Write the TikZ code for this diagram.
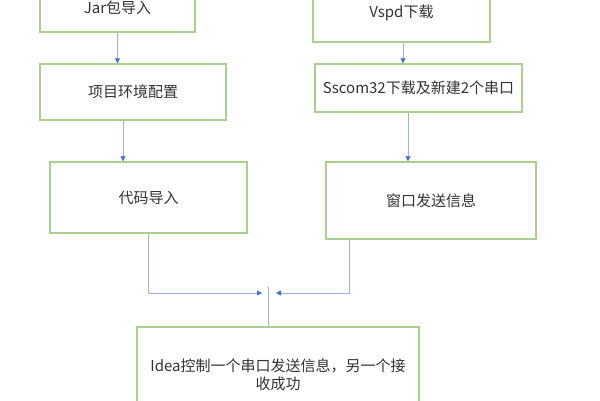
\documentclass[tikz,border=0pt]{standalone}
\usepackage{fontspec}
\setmainfont{Noto Sans CJK SC}
\usetikzlibrary{arrows.meta}
\definecolor{boxgreen}{HTML}{A9D18E}
\definecolor{linkblue}{HTML}{9AB3E0}
\definecolor{headblue}{HTML}{4472C4}
\definecolor{txt}{HTML}{333333}
\tikzset{
  stepbox/.style={draw=boxgreen, line width=1.4pt, fill=white, inner sep=0pt,
    text=txt, font=\fontsize{15}{18}\selectfont, align=center},
  arr/.style={draw=linkblue, line width=0.8pt,
    -{Triangle[length=5pt,width=5pt,fill=headblue,color=headblue]}},
  link/.style={draw=linkblue, line width=0.8pt}
}
\begin{document}
\begin{tikzpicture}[x=1pt,y=-1pt]
\useasboundingbox (0,0) rectangle (600,400);
\clip (0,0) rectangle (600,400);
\fill[white] (0,0) rectangle (600,400);
\node[stepbox, minimum width=155pt, minimum height=48pt] (b1) at (117.5,8) {Jar包导入};
\node[stepbox, minimum width=186pt, minimum height=56pt] (b2) at (133,92) {项目环境配置};
\node[stepbox, minimum width=197pt, minimum height=71pt] (b3) at (148.5,197.5) {代码导入};
\node[stepbox, minimum width=177pt, minimum height=58pt] (b4) at (401.5,13) {Vspd下载};
\node[stepbox, minimum width=207pt, minimum height=48pt] (b5) at (418.5,88) {Sscom32下载及新建2个串口};
\node[stepbox, minimum width=210pt, minimum height=77pt] (b6) at (431,200.5) {窗口发送信息};
\node[stepbox, minimum width=282pt, minimum height=96pt] (b7) at (278,375) {Idea控制一个串口发送信息，另一个接\\收成功};
\coordinate (jl) at (262,293);
\coordinate (jr) at (276,293);
\coordinate (jt) at (268,287);
\draw[arr] (b1.south) -- (b1.south |- b2.north);
\draw[arr] ([xshift=-10pt]b2.south) -- ([xshift=-10pt]b2.south |- b3.north);
\draw[arr] ([xshift=1.5pt]b4.south) -- ([xshift=1.5pt]b4.south |- b5.north);
\draw[arr] ([xshift=-10.5pt]b5.south) -- ([xshift=-10.5pt]b5.south |- b6.north);
\draw[arr] (b3.south) |- (jl);
\draw[arr] ([xshift=-82pt]b6.south) |- (jr);
\draw[link] (jt) -- (jt |- b7.north);
\end{tikzpicture}
\end{document}
